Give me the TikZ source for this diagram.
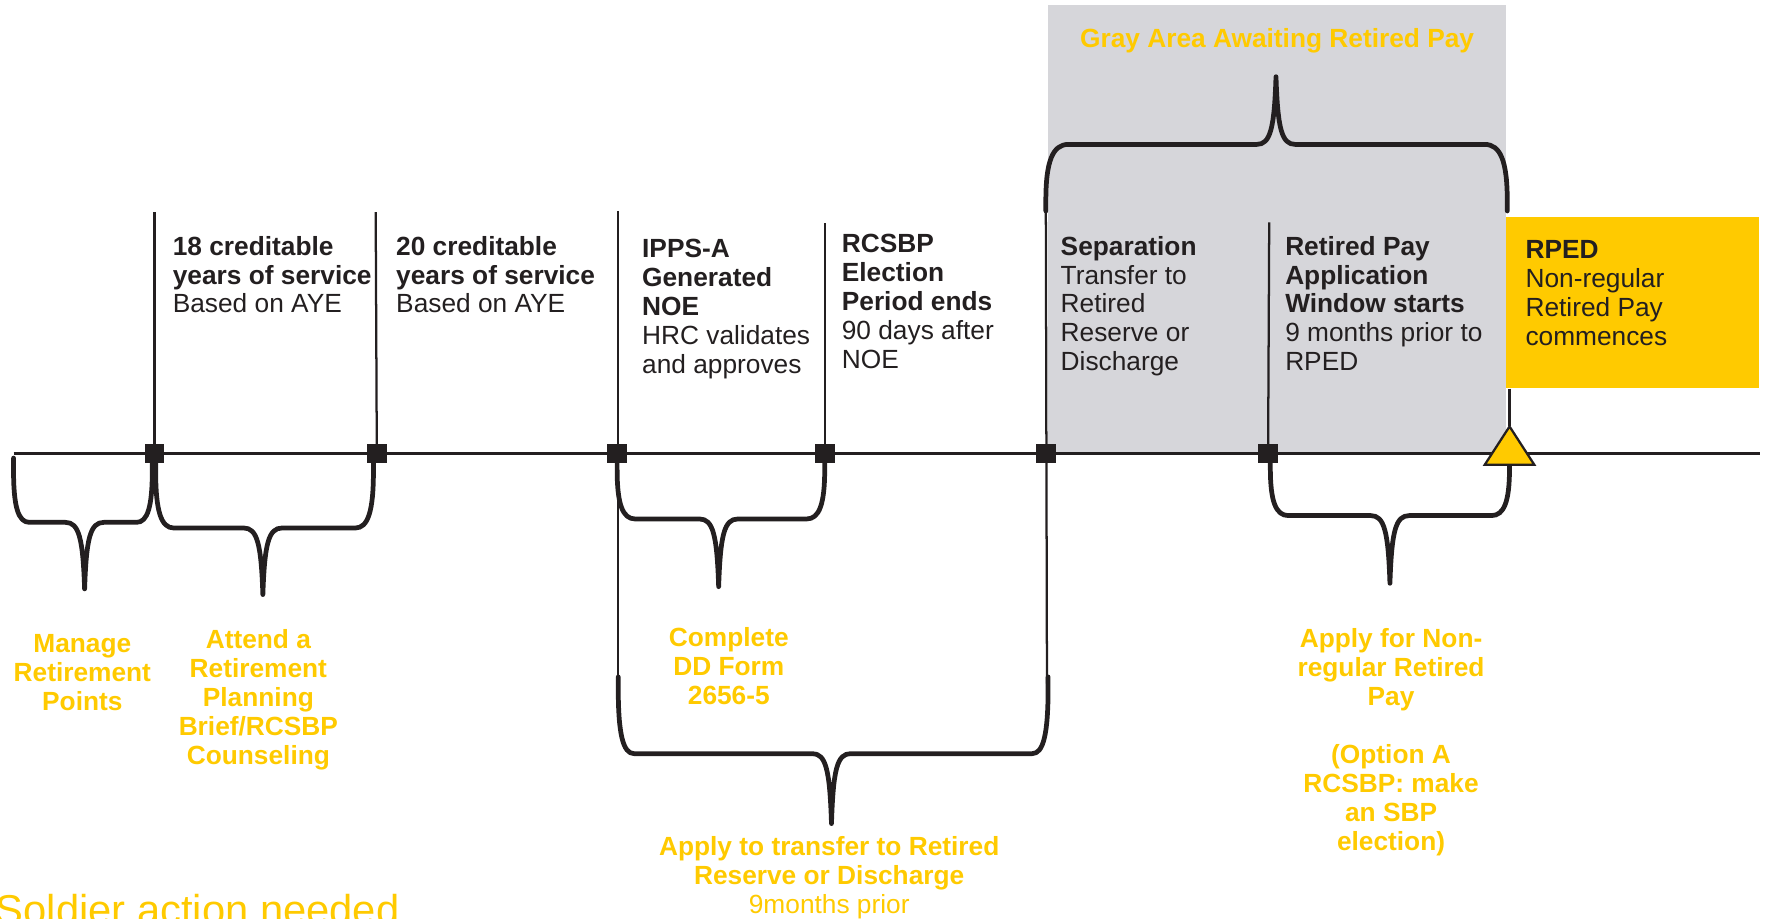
\documentclass[tikz,border=0pt]{standalone}
\usepackage{fontspec}
\setmainfont{Liberation Sans}
\definecolor{ayellow}{RGB}{255,202,0}
\definecolor{grayarea}{RGB}{214,214,218}
\definecolor{txtblack}{RGB}{35,31,32}
\tikzset{
  lbl/.style={font=\fontsize{23.3}{25.6}\selectfont, inner sep=0pt, align=left, anchor=north west, text=txtblack},
  ylbl/.style={font=\fontsize{23.3}{25.6}\selectfont\bfseries, inner sep=0pt, align=center, anchor=north, text=ayellow},
  thinline/.style={draw=txtblack, line width=2pt},
  bracestroke/.style={draw=txtblack, line width=4.2pt, line join=round, line cap=round},
  marker/.style={fill=txtblack, minimum size=17.5pt, inner sep=0pt, draw=none},
}
% brace opening upward (stem down): xl xr y0 yh xc yt rx ry
\newcommand\mybracedown[8]{%
  \draw[bracestroke] (#1,#3) -- (#1,#4-#8) .. controls (#1,#4-0.3*#8) and (#1+0.3*#7,#4) .. (#1+#7,#4)
    -- (#5-17,#4) .. controls (#5-5,#4) and (#5-1.5,#4+14) .. (#5,#6)
    .. controls (#5+1.5,#4+14) and (#5+5,#4) .. (#5+17,#4)
    -- (#2-#7,#4) .. controls (#2-0.3*#7,#4) and (#2,#4-0.3*#8) .. (#2,#4-#8) -- (#2,#3);}
\newcommand\mybraceup[8]{%
  \draw[bracestroke] (#1,#3) -- (#1,#4+#8) .. controls (#1,#4+0.3*#8) and (#1+0.3*#7,#4) .. (#1+#7,#4)
    -- (#5-17,#4) .. controls (#5-5,#4) and (#5-1.5,#4-14) .. (#5,#6)
    .. controls (#5+1.5,#4-14) and (#5+5,#4) .. (#5+17,#4)
    -- (#2-#7,#4) .. controls (#2-0.3*#7,#4) and (#2,#4+0.3*#8) .. (#2,#4+#8) -- (#2,#3);}
\begin{document}
\begin{tikzpicture}[x=1pt,y=-1pt]
\useasboundingbox (0,0) rectangle (1568,814);
\clip (0,0) rectangle (1568,814);
% gray area
\fill[grayarea] (929,4) rectangle (1335,402);
% timeline
\coordinate (tl0) at (12,402);
\coordinate (tl1) at (1560,402);
\draw[thinline] (tl0) -- (tl1);
% markers
\node[marker] (m1) at (137,402) {};
\node[marker] (m2) at (334,402) {};
\node[marker] (m3) at (547,402) {};
\node[marker] (m4) at (731,402) {};
\node[marker] (m5) at (927,402) {};
\node[marker] (m6) at (1124,402) {};
% tops of vertical lines
\coordinate (t1) at (137,188);
\coordinate (t2) at (333,188);
\coordinate (t3) at (548,187);
\coordinate (t4) at (731,198);
\coordinate (t5) at (927,187);
\coordinate (t6) at (1125,197);
\coordinate (b3) at (548,606);
\coordinate (b5) at (928,606);
\draw[thinline] (t1) -- (m1.center);
\draw[thinline] (t2) -- (m2.center);
\draw[thinline] (t3) -- (b3);
\draw[thinline] (t4) -- (m4.center);
\draw[thinline] (t5) -- (b5);
\draw[thinline] (t6) -- (m6.center);
% braces
\mybracedown{12}{135}{406}{463}{75}{522}{14}{46}
\mybracedown{138}{331}{408}{468}{233}{527}{16}{50}
\mybracedown{547}{731}{408}{460}{637}{520}{16}{44}
\mybracedown{548}{929}{600}{668}{737}{730}{14}{58}
\mybracedown{1126}{1338}{408}{457}{1232}{517}{16}{42}
\mybraceup{927}{1336}{187}{128}{1131}{68}{20}{50}
% markers redrawn on top
\node[marker] at (m1) {};
\node[marker] at (m2) {};
\node[marker] at (m3) {};
\node[marker] at (m4) {};
\node[marker] at (m5) {};
\node[marker] at (m6) {};
% RPED box and triangle
\node[fill=ayellow, minimum width=224pt, minimum height=152pt, anchor=north west, inner sep=0pt] (rbox) at (1335,192) {};
\coordinate (tri) at (1338,378);
\draw[thinline] ([xshift=3pt]rbox.south west) -- (tri);
\draw[thinline, fill=ayellow, line join=miter] (tri) -- (1360,412) -- (1316,412) -- cycle;
% black texts
\node[lbl] (n18) at (153,208.1) {\strut\textbf{18 creditable}\\\textbf{years of service}\\Based on AYE};
\node[lbl] (n20) at (351,208.1) {\strut\textbf{20 creditable}\\\textbf{years of service}\\Based on AYE};
\node[lbl] (nipps) at (569,210.1) {\strut\textbf{IPPS-A}\\\textbf{Generated}\\\textbf{NOE}\\HRC validates\\and approves};
\node[lbl] (nrcsbp) at (746,206.1) {\strut\textbf{RCSBP}\\\textbf{Election}\\\textbf{Period ends}\\90 days after\\NOE};
\node[lbl] (nsep) at (940,208.1) {\strut\textbf{Separation}\\Transfer to\\Retired\\Reserve or\\Discharge};
\node[lbl] (nrpa) at (1139,208.1) {\strut\textbf{Retired Pay}\\\textbf{Application}\\\textbf{Window starts}\\9 months prior to\\RPED};
\node[lbl] (nrped) at (1352,211.1) {\strut\textbf{RPED}\\Non-regular\\Retired Pay\\commences};
% yellow texts
\node[ylbl] (ygray) at (1132,24.1) {\strut Gray Area Awaiting Retired Pay};
\node[ylbl] (ymanage) at (73,560.1) {\strut Manage\\Retirement\\Points};
\node[ylbl] (yattend) at (229,557.1) {\strut Attend a\\Retirement\\Planning\\Brief/RCSBP\\Counseling};
\node[ylbl] (ydd) at (646,555.1) {\strut Complete\\DD Form\\2656-5};
\node[ylbl] (ytransfer) at (735,740.1) {\strut Apply to transfer to Retired\\Reserve or Discharge\\{\mdseries 9months prior}};
\node[ylbl] (yapply) at (1233,556.1) {\strut Apply for Non-\\regular Retired\\Pay\\\strut\\(Option A\\RCSBP: make\\an SBP\\election)};
\node[font=\fontsize{37}{44}\selectfont, text=ayellow, anchor=base west, inner sep=0pt] (soldier) at (-4,819) {Soldier action needed};
\end{tikzpicture}
\end{document}
